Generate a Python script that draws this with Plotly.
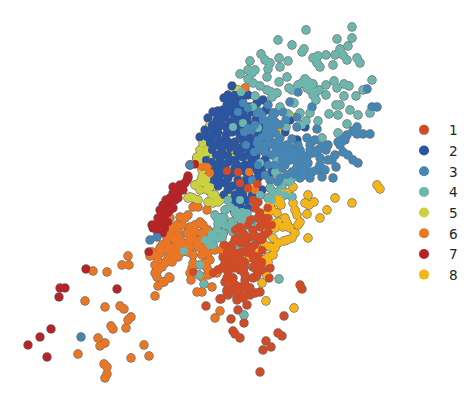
import plotly.graph_objects as go

# values, one list per cluster
cluster_1 = [(206,306),(220,299),(231,319),(238,310),(244,323),(247,305),(233,331),(235,334),(240,338),(278,333),(282,336),
    (266,341),(271,347),(263,350),(260,372),(284,316),(300,285),(302,289),(269,278),(227,290),(228,295),(237,298),(240,295),
    (247,295),(255,293),(260,292),(250,288),(243,287),(234,285),(225,282),(227,278),(253,278),(257,275),(227,171),(238,172),
    (240,183),(257,184),(248,188),(253,200),(258,202),(255,208),(268,208),(260,213),(265,218),(248,225),(253,230),(260,227),
    (267,225),(240,227),(235,230),(243,233),(250,237),(257,237),(240,243),(247,245),(255,245),(262,240),(230,250),(235,253),
    (242,252),(248,253),(253,255),(230,257),(240,258),(223,257),(227,252),(233,258),(238,262),(230,265),(225,263),(218,270),
    (213,273),(193,272),(232,282),(235,285),(240,287),(247,287),(233,278),(227,292),(237,295),(237,300),(243,298),(250,295),
    (221,299),(253,267),(257,268),(258,263),(253,258),(252,255),(255,277),(240,270),(234,268),(228,272),(245,262),(245,275),
    (232,245),(236,238),(244,239),(224,245),(262,250),(258,256),(268,232),(264,235),(270,268),(262,270),(250,220),(258,218),
    (262,222),(268,218),(272,225),(235,240),(252,248),(240,262),(244,268),(222,268),(245,280),(235,290),(262,262)]
cluster_2 = [(232,86),(235,95),(228,99),(248,95),(242,100),(263,100),(257,103),(250,107),(243,107),(235,105),(223,110),
    (217,113),(225,117),(233,113),(242,117),(228,95),(224,98),(232,99),(238,102),(227,105),(218,111),(213,112),(208,118),
    (217,120),(225,115),(233,110),(240,113),(222,125),(230,122),(235,118),(205,130),(200,137),(207,137),(213,132),(218,133),
    (232,132),(240,135),(227,128),(225,140),(235,142),(243,140),(250,138),(210,143),(217,145),(222,150),(230,148),(237,152),
    (243,148),(250,150),(220,160),(235,160),(243,157),(252,160),(225,165),(245,165),(253,168),(232,173),(247,173),(220,175),
    (237,165),(228,178),(238,180),(246,180),(232,186),(240,190),(235,195),(243,195),(228,190),(250,178),(225,183),(215,170),
    (222,168),(214,180),(218,186),(224,195),(246,200),(238,203),(232,200),(262,165),(258,172),(265,160),(258,178),(266,148),
    (258,135),(245,128),(238,125),(226,135),(212,125),(220,140),(228,155),(212,150),(252,145),(260,128),(266,110),(290,120),
    (305,127),(297,140),(285,132),(255,112),(247,118),(256,120),(262,140),(272,172),(262,190),(248,208),(240,206),(245,215),
    (212,138),(218,128),(222,118),(228,110),(236,108),(244,110),(252,112),(230,128),(236,130),(244,125),(250,125),(222,156),
    (228,162),(235,168),(242,170),(250,165),(218,165),(212,162),(206,160),(240,155),(248,155),(256,155),(214,172),(220,182),
    (226,172),(232,160),(238,148),(228,142),(216,155),(224,145),(212,128),(250,142),(256,160),(262,172),(244,185),(252,195),
    (238,185),(234,210)]
cluster_3 = [(81,337),(150,240),(157,237),(367,89),(298,92),(290,102),(312,107),(377,107),(372,107),(297,117),(297,127),(317,129),
    (357,127),(353,131),(347,135),(342,139),(357,134),(363,134),(370,134),(338,142),(328,145),(315,140),(307,138),(292,139),
    (287,145),(298,145),(343,152),(348,155),(353,160),(358,163),(332,160),(336,167),(325,170),(317,170),(308,163),(303,163),
    (297,167),(333,178),(322,177),(313,153),(307,157),(320,158),(243,103),(248,108),(257,113),(275,113),(272,118),(273,125),
    (267,127),(248,128),(262,137),(268,138),(257,143),(275,143),(280,138),(265,152),(272,155),(278,153),(268,165),(282,168),
    (265,175),(273,113),(272,118),(275,122),(268,123),(263,120),(259,112),(300,150),(294,152),(285,155),(290,160),(302,155),
    (310,145),(322,146),(287,175),(280,178),(292,172),(252,220),(190,165),(302,172),(276,133),(270,180),(278,182),(300,178),
    (252,180),(246,145),(238,112),(244,132),(252,130),(258,150),(264,145),(272,130),(312,172),(262,115),(268,105),(255,125),
    (258,140),(268,145),(276,148),(284,148),(290,148),(270,135),(266,132),(280,125),(286,120),(283,112),(280,145),(275,165),
    (282,160),(290,155),(295,160),(310,150),(318,150),(326,150),(335,155),(305,168),(310,178),(320,165),(328,160),(340,145),
    (345,140),(285,165),(295,175),(304,175),(298,155),(254,152),(258,165)]
cluster_4 = [(306,30),(352,27),(352,38),(337,39),(278,40),(292,45),(304,49),(302,52),(348,46),(340,49),(335,55),(343,55),(347,60),
    (326,55),(318,56),(313,58),(357,58),(360,63),(317,63),(320,67),(333,65),(261,54),(250,61),(265,60),(270,63),(279,58),(288,61),
    (280,67),(268,69),(267,77),(255,70),(248,70),(252,73),(240,74),(248,79),(253,83),(260,86),(267,90),(277,93),(271,92),(279,82),
    (287,77),(305,79),(302,83),(313,84),(289,88),(307,88),(319,90),(326,85),(334,81),(337,88),(344,84),(349,86),(372,80),(326,95),
    (313,95),(316,100),(344,96),(356,96),(363,90),(294,103),(336,105),(340,105),(350,110),(370,113),(358,115),(338,115),(329,114),
    (300,113),(288,114),(310,113),(318,121),(306,121),(302,125),(286,127),(347,124),(338,133),(322,138),(280,107),(253,107),
    (241,92),(255,96),(233,127),(243,123),(258,128),(260,163),(277,160),(275,172),(279,178),(217,218),(222,218),
    (225,225),(232,222),(217,230),(223,233),(212,237),(217,238),(213,245),(233,232),(242,222),(235,213),(242,212),(225,210),(230,207),
    (235,210),(240,213),(247,213),(242,223),(243,218),(220,218),(215,215),(230,227),(208,242),(238,244),(278,192),(292,197),(273,192),
    (293,177),(287,180),(278,170),(184,251),(200,265),(199,275),(204,284),(212,234),(210,245),(223,234),(237,243),(252,233),(279,279),
    (244,315),(228,200),(260,195),(268,198),(282,186),(272,200),(240,200),(252,222),(262,218),(272,97),(292,90),(298,85),
    (308,82),(310,90),(316,92),(224,218),(238,218),(218,224),(222,238),(205,240),(250,220),(270,188),(285,195),(290,182)]
cluster_5 = [(238,90),(210,125),(222,137),(203,143),(200,150),(207,150),(213,153),(228,157),(213,158),(197,158),(203,157),(195,163),
    (200,160),(197,157),(197,163),(202,170),(202,177),(208,178),(200,182),(205,183),(195,185),(200,190),(207,190),(210,187),(193,198),
    (198,200),(190,197),(215,195),(213,203),(218,202),(208,202),(232,158),(225,160),(217,158),(207,152),(228,197),(216,130),(230,150),
    (222,144),(188,198),(212,195),(220,200)]
cluster_6 = [(93,271),(107,272),(128,256),(122,265),(129,265),(85,301),(105,307),(120,306),(124,309),(131,317),(128,320),(111,326),
    (113,329),(126,328),(98,338),(105,343),(100,346),(144,345),(78,354),(131,358),(149,356),(104,364),(107,367),(107,374),(105,378),
    (155,296),(158,286),(164,282),(170,278),(220,311),(215,318),(245,88),(202,167),(207,167),(210,173),(193,207),(198,207),(207,210),
    (185,218),(180,217),(188,215),(200,222),(195,225),(203,225),(190,227),(182,225),(177,225),(172,228),(178,232),(187,233),(195,232),
    (202,233),(208,230),(173,237),(167,240),(180,238),(193,238),(200,240),(207,238),(162,245),(170,247),(177,245),(187,245),(198,247),
    (208,245),(170,235),(178,237),(192,235),(197,243),(202,248),(190,247),(193,255),(202,255),(208,253),(215,250),(222,250),(183,243),
    (178,248),(175,255),(167,250),(160,253),(168,258),(158,260),(165,263),(155,265),(162,267),(155,273),(157,277),(163,282),(169,277),
    (192,268),(193,263),(207,268),(208,275),(202,277),(197,292),(202,292),(212,287),(191,280),(190,273),(217,273),(205,263),(210,260),
    (227,280),(205,167),(170,218),(226,282),(255,190),(249,172),(150,256),(152,252),(205,252),(165,245),
    (172,252),(182,252),(188,252),(160,248),(175,240),(190,240),(155,255),(172,262),(178,257),(158,270)]
cluster_7 = [(86,269),(60,288),(65,288),(59,297),(117,289),(51,329),(40,337),(28,345),(47,357),(149,252),(188,176),(187,180),(180,185),
    (177,190),(173,193),(170,198),(178,193),(182,188),(185,183),(175,200),(168,205),(163,205),(162,212),(168,213),(173,208),(165,218),
    (158,218),(160,225),(168,222),(157,227),(163,233),(158,233),(153,228),(195,164),(173,187),(190,165),(188,178),(223,233),(172,200),
    (178,198),(165,212),(160,220),(170,210),(155,225),(165,228),(183,190),(176,195),(166,200),(160,210),(152,225)]
cluster_8 = [(308,195),(305,203),(309,205),(314,202),(327,210),(307,214),(320,218),(335,198),(352,203),(377,185),(380,189),(308,238),
    (293,203),(295,210),(297,215),(300,222),(298,225),(285,218),(287,223),(278,222),(283,227),(290,228),(295,233),(292,238),(287,240),
    (273,238),(278,243),(275,248),(270,247),(265,245),(273,255),(268,257),(263,260),(260,263),(257,250),(250,257),(253,267),(278,195),
    (277,202),(280,200),(272,210),(277,213),(268,213),(287,193),(293,187),(267,232),(250,195),(270,205),(258,178),(255,185),(290,116),
    (280,132),(266,301),(294,308),(267,276),(284,241),(245,180),(262,283),(270,222),(281,205),(258,258),(268,262),(275,228),(282,193)]

cluster_names = ["1", "2", "3", "4", "5", "6", "7", "8"]
cluster_points = [cluster_1, cluster_2, cluster_3, cluster_4, cluster_5, cluster_6, cluster_7, cluster_8]
cluster_colors = ["#D24B27", "#2B559F", "#4686B4", "#6DB6AE", "#CBD141", "#EA7724", "#B52528", "#F4B518"]
draw_order = [4, 7, 1, 5, 6, 3, 2, 0]

fig = go.Figure()

# grey halo goes under everything, so overlapping points merge into blobs
all_points = [p for pts in cluster_points for p in pts]
fig.add_trace(go.Scatter(
    x=[p[0] for p in all_points],
    y=[p[1] for p in all_points],
    mode='markers',
    showlegend=False,
    marker=dict(size=9.4, color='#666666', line=dict(width=0)),
))

# the points
for i in draw_order:
    pts = cluster_points[i]
    fig.add_trace(go.Scatter(
        x=[p[0] for p in pts],
        y=[p[1] for p in pts],
        mode='markers',
        showlegend=False,
        marker=dict(size=8, color=cluster_colors[i], line=dict(width=0)),
    ))

# legend entries, bigger and without the halo
for i, name in enumerate(cluster_names):
    fig.add_trace(go.Scatter(
        x=[None],
        y=[None],
        mode='markers',
        name=name,
        marker=dict(size=10, color=cluster_colors[i]),
    ))

# the page keeps its 8px body margin, so the ranges start at 8
fig.update_layout(
    width=457,
    height=389,
    paper_bgcolor='white',
    plot_bgcolor='white',
    font=dict(family='DejaVu Sans', color='#262626', size=13.6),
    xaxis=dict(range=[8, 465], visible=False),
    yaxis=dict(range=[397, 8], visible=False),
    margin=dict(l=0, r=0, t=0, b=0),
    legend=dict(x=0.8556, y=0.5, xanchor='left', yanchor='middle', itemwidth=40,
                bgcolor='rgba(0,0,0,0)'),
)

fig.write_html("out.html")
